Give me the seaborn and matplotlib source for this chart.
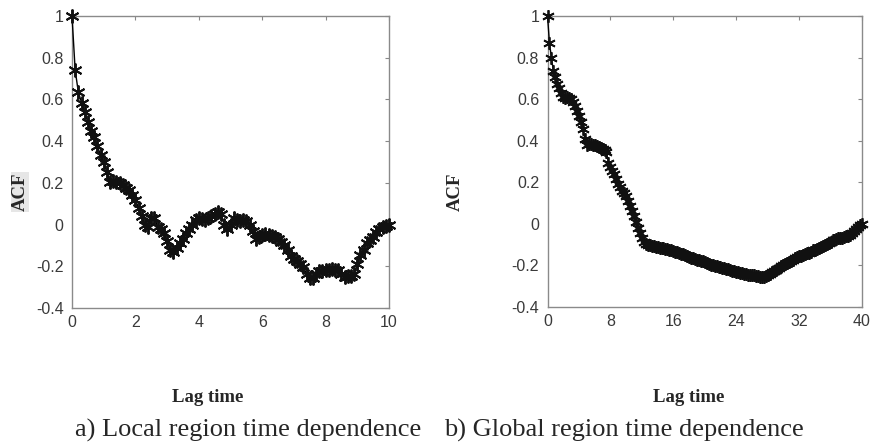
import numpy as np
import pandas as pd
import matplotlib
matplotlib.use("Agg")
import matplotlib.pyplot as plt
import seaborn as sns

# local region ACF, lag step 0.1 (0..10)
local_acf = [1.00, 0.74, 0.635, 0.585, 0.54, 0.49, 0.45, 0.42, 0.375, 0.335,
             0.30, 0.25, 0.205, 0.21, 0.205, 0.20, 0.19, 0.175, 0.165, 0.14,
             0.12, 0.08, 0.04, 0.0, -0.01, 0.03, 0.03, -0.01, -0.02, -0.04,
             -0.08, -0.12, -0.13, -0.11, -0.09, -0.07, -0.04, -0.02, 0.0, 0.02,
             0.03, 0.025, 0.02, 0.03, 0.04, 0.05, 0.06, 0.05, 0.0, -0.02,
             0.0, 0.03, 0.02, 0.015, 0.02, 0.015, 0.0, -0.03, -0.07, -0.06,
             -0.05, -0.045, -0.05, -0.055, -0.06, -0.07, -0.085, -0.10, -0.12, -0.15,
             -0.165, -0.175, -0.19, -0.205, -0.235, -0.255, -0.255, -0.235, -0.225, -0.225,
             -0.22, -0.22, -0.215, -0.22, -0.22, -0.235, -0.25, -0.245, -0.245, -0.235,
             -0.19, -0.145, -0.12, -0.09, -0.075, -0.06, -0.035, -0.02, -0.01, -0.005,
             0.0]
local_lag = np.round(np.arange(len(local_acf)) * 0.1, 2)

# global region ACF, lag step 0.25 (0..40)
global_acf = [1.00, 0.87, 0.80, 0.735, 0.705, 0.675, 0.655, 0.63, 0.61, 0.605,
              0.61, 0.605, 0.60, 0.585, 0.565, 0.545, 0.52, 0.49, 0.455, 0.41,
              0.38, 0.385, 0.385, 0.38, 0.38, 0.375, 0.372, 0.365, 0.36, 0.355,
              0.345, 0.295, 0.275, 0.255, 0.24, 0.215, 0.19, 0.175, 0.16, 0.15,
              0.135, 0.11, 0.085, 0.06, 0.04, 0.01, -0.02, -0.045, -0.07, -0.085,
              -0.095, -0.10, -0.104, -0.106, -0.108, -0.11, -0.112, -0.114, -0.116, -0.118,
              -0.12, -0.122, -0.124, -0.127, -0.13, -0.133, -0.136, -0.14, -0.143, -0.146,
              -0.15, -0.155, -0.16, -0.163, -0.166, -0.168, -0.172, -0.175, -0.178, -0.18,
              -0.185, -0.188, -0.192, -0.196, -0.199, -0.202, -0.205, -0.208, -0.208, -0.21,
              -0.213, -0.216, -0.219, -0.222, -0.225, -0.228, -0.23, -0.232, -0.235, -0.238,
              -0.24, -0.242, -0.244, -0.246, -0.247, -0.248, -0.25, -0.252, -0.254, -0.255,
              -0.254, -0.25, -0.245, -0.24, -0.234, -0.228, -0.222, -0.216, -0.21, -0.204,
              -0.198, -0.193, -0.188, -0.184, -0.178, -0.172, -0.166, -0.16, -0.156, -0.153,
              -0.15, -0.146, -0.142, -0.138, -0.133, -0.128, -0.124, -0.12, -0.115, -0.11,
              -0.105, -0.10, -0.095, -0.09, -0.085, -0.08, -0.076, -0.072, -0.07, -0.068,
              -0.066, -0.062, -0.06, -0.057, -0.052, -0.044, -0.036, -0.026, -0.016, -0.006,
              0.0]
global_lag = np.round(np.arange(len(global_acf)) * 0.25, 2)

yticks = [-0.4, -0.2, 0, 0.2, 0.4, 0.6, 0.8, 1]
ytick_labels = ["-0.4", "-0.2", "0", "0.2", "0.4", "0.6", "0.8", "1"]
local_xticks = [0, 2, 4, 6, 8, 10]
global_xticks = [0, 8, 16, 24, 32, 40]
captions = ["a) Local region time dependence", "b) Global region time dependence"]

sns.set_style("white")
plt.rcParams["axes.unicode_minus"] = False

W, H = 872, 445
fig = plt.figure(figsize=(W / 100, H / 100), dpi=100)

def px_axes(x0, y0, x1, y1):
    return fig.add_axes([x0 / W, 1 - y1 / H, (x1 - x0) / W, (y1 - y0) / H])

ax1 = px_axes(72, 16, 389, 308)
ax2 = px_axes(547.5, 16, 862, 307)

star = (6, 2, 0)
sns.lineplot(x=local_lag, y=local_acf, ax=ax1, color="black", linewidth=1.0,
             marker=star, markersize=10, markeredgewidth=1.4, markeredgecolor="#111111",
             estimator=None, sort=False, clip_on=False, zorder=5)
sns.lineplot(x=global_lag, y=global_acf, ax=ax2, color="black", linewidth=1.0,
             marker=star, markersize=9, markeredgewidth=1.3, markeredgecolor="#111111",
             estimator=None, sort=False, clip_on=False, zorder=5)

for ax, xt in [(ax1, local_xticks), (ax2, global_xticks)]:
    ax.set_xlim(xt[0], xt[-1])
    ax.set_ylim(-0.4, 1)
    ax.set_xticks(xt)
    ax.set_xticklabels([str(v) for v in xt], fontfamily="Liberation Sans")
    ax.set_yticks(yticks)
    ax.set_yticklabels(ytick_labels, fontfamily="Liberation Sans")
    ax.tick_params(direction="in", length=3, width=0.8, color="#888888",
                   labelcolor="#3a3a3a", labelsize=11.5, top=True, right=True,
                   labeltop=False, labelright=False)
    ax.tick_params(axis="y", pad=6)
    ax.tick_params(axis="x", pad=5)
    for s in ax.spines.values():
        s.set_color("#8a8a8a")
        s.set_linewidth(1.0)
    ax.set_xlabel("")
    ax.set_ylabel("")

# axis labels placed like the figure
fig.text(20 / W, 1 - 192 / H, "ACF", rotation=90, ha="center", va="center",
         fontfamily="Liberation Serif", fontweight="bold", fontsize=13.5,
         bbox=dict(facecolor="#e6e6e6", edgecolor="none", pad=0.5))
fig.text(455 / W, 1 - 192 / H, "ACF", rotation=90, ha="center", va="center",
         fontfamily="Liberation Serif", fontweight="bold", fontsize=13.5)
fig.text(208 / W, 1 - 397 / H, "Lag time", ha="center", va="center",
         fontfamily="Liberation Serif", fontweight="bold", fontsize=13.5)
fig.text(689 / W, 1 - 397 / H, "Lag time", ha="center", va="center",
         fontfamily="Liberation Serif", fontweight="bold", fontsize=13.5)

fig.text(75 / W, 1 - 430 / H, captions[0], ha="left", va="center",
         fontfamily="Liberation Serif", fontsize=19)
fig.text(444 / W, 1 - 430 / H, captions[1], ha="left", va="center",
         fontfamily="Liberation Serif", fontsize=19)

fig.savefig("out.png", dpi=100)
